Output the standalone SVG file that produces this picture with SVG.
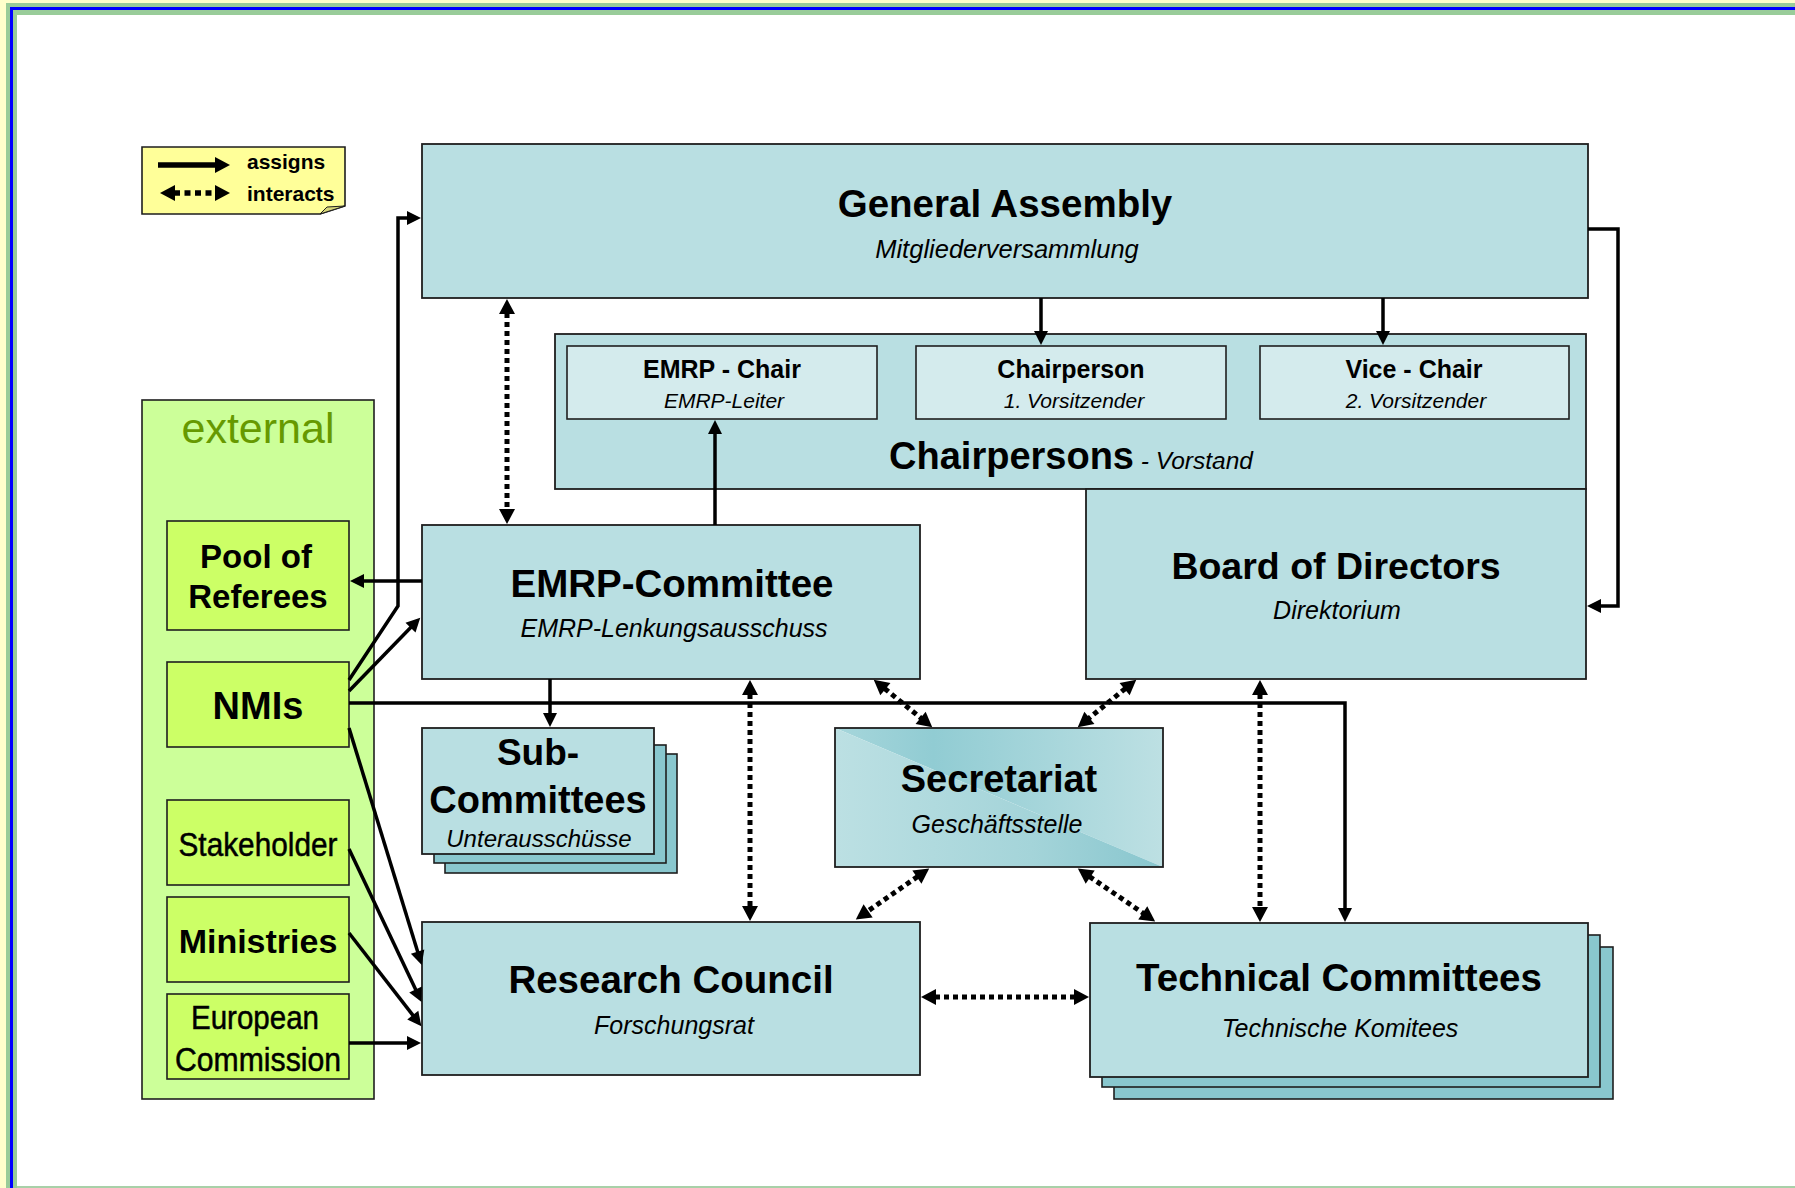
<svg xmlns="http://www.w3.org/2000/svg" width="1795" height="1188" viewBox="0 0 1795 1188">
<style>
.box{fill:#B9DFE2;stroke:#1e1e1e;stroke-width:1.8}
.sub{fill:#D4EBED;stroke:#1e1e1e;stroke-width:1.6}
.shadow{fill:#89C7CE;stroke:#1e1e1e;stroke-width:1.6}
.grn{fill:#CCFF66;stroke:#1e1e1e;stroke-width:1.6}
.ttl{font-family:"Liberation Sans",Arial,sans-serif;font-weight:bold;text-anchor:middle;fill:#000}
.it{font-family:"Liberation Sans",Arial,sans-serif;font-style:italic;text-anchor:middle;fill:#000}
.nar{font-family:"Liberation Sans Narrow","Liberation Sans",Arial,sans-serif;text-anchor:middle;fill:#000;stroke:#000;stroke-width:0.5}
.solid{fill:none;stroke:#000;stroke-width:3.5;marker-end:url(#ah)}
.dot{fill:none;stroke:#000;stroke-width:5;stroke-dasharray:5 4;marker-start:url(#dh);marker-end:url(#dh)}
</style>
<defs>
<marker id="ah" markerUnits="userSpaceOnUse" markerWidth="16" markerHeight="16" refX="1" refY="7" orient="auto-start-reverse" overflow="visible"><path d="M0,0 L14,7 L0,14 z" fill="#000"/></marker>
<marker id="dh" markerUnits="userSpaceOnUse" markerWidth="17" markerHeight="17" refX="1" refY="8" orient="auto-start-reverse" overflow="visible"><path d="M0,0 L15,8 L0,16 z" fill="#000"/></marker>
<linearGradient id="secU" x1="835" y1="0" x2="1163" y2="0" gradientUnits="userSpaceOnUse"><stop offset="0" stop-color="#A6D6DB"/><stop offset="0.3" stop-color="#91CCD3"/><stop offset="1" stop-color="#BDE0E3"/></linearGradient>
<linearGradient id="secL" x1="835" y1="0" x2="1163" y2="0" gradientUnits="userSpaceOnUse"><stop offset="0" stop-color="#BCE0E3"/><stop offset="0.6" stop-color="#A4D4D9"/><stop offset="1" stop-color="#88C6CE"/></linearGradient>
</defs>
<rect x="0" y="0" width="1795" height="1188" fill="#FFFFFF"/>
<g id="frame">
<rect x="0" y="0" width="6" height="1188" fill="#FFFFCC"/>
<rect x="0" y="0" width="1795" height="3" fill="#FFFFCC"/>
<rect x="6" y="3" width="1789" height="4" fill="#99CC99"/>
<rect x="6" y="3" width="4" height="1185" fill="#99CC99"/>
<rect x="10" y="7" width="1785" height="3" fill="#0000FF"/>
<rect x="10" y="7" width="3" height="1181" fill="#0000FF"/>
<rect x="13" y="10" width="1782" height="5" fill="#99CC99"/>
<rect x="13" y="10" width="4" height="1178" fill="#99CC99"/>
<rect x="17" y="1186" width="1778" height="2" fill="#A8D0A8"/>
</g>
<g id="node-legend">
<polygon points="142,147 345,147 345,206 320,214 142,214" fill="#FFFF99" stroke="#1e1e1e" stroke-width="1.6"/>
<polygon points="320,214 345,206 327,207" fill="#D6D67A" stroke="#1e1e1e" stroke-width="1"/>
<line x1="158" y1="165" x2="216" y2="165" stroke="#000" stroke-width="5.5" marker-end="url(#dh)"/>
<line x1="174" y1="193" x2="216" y2="193" stroke="#000" stroke-width="5.5" stroke-dasharray="6 4.5" marker-start="url(#dh)" marker-end="url(#dh)"/>
<text x="247" y="169" font-family="Liberation Sans,Arial,sans-serif" font-weight="bold" font-size="21">assigns</text>
<text x="247" y="201" font-family="Liberation Sans,Arial,sans-serif" font-weight="bold" font-size="21">interacts</text>
</g>
<g id="node-external">
<rect x="142" y="400" width="232" height="699" fill="#CCFF99" stroke="#1e1e1e" stroke-width="1.6"/>
<text x="258" y="443" font-family="Liberation Sans,Arial,sans-serif" font-size="43" text-anchor="middle" fill="#669900">external</text>
</g>
<g id="node-pool">
<rect class="grn" x="167" y="521" width="182" height="109"/>
<text class="ttl" x="256" y="568" font-size="33">Pool of</text>
<text class="ttl" x="258" y="608" font-size="33">Referees</text>
</g>
<g id="node-nmis">
<rect class="grn" x="167" y="662" width="182" height="85"/>
<text class="ttl" x="258" y="719" font-size="38">NMIs</text>
</g>
<g id="node-stakeholder">
<rect class="grn" x="167" y="800" width="182" height="85"/>
<text class="nar" x="258" y="856" font-size="33" textLength="159" lengthAdjust="spacingAndGlyphs">Stakeholder</text>
</g>
<g id="node-ministries">
<rect class="grn" x="167" y="897" width="182" height="85"/>
<text class="ttl" x="258" y="953" font-size="34">Ministries</text>
</g>
<g id="node-ec">
<rect class="grn" x="167" y="994" width="182" height="85"/>
<text class="nar" x="255" y="1029" font-size="33" textLength="128" lengthAdjust="spacingAndGlyphs">European</text>
<text class="nar" x="258" y="1071" font-size="33" textLength="166" lengthAdjust="spacingAndGlyphs">Commission</text>
</g>
<g id="node-ga">
<rect class="box" x="422" y="144" width="1166" height="154"/>
<text class="ttl" x="1005" y="217" font-size="38.5">General Assembly</text>
<text class="it" x="1007" y="258" font-size="25.5">Mitgliederversammlung</text>
</g>
<g id="node-chairpersons">
<rect class="box" x="555" y="334" width="1031" height="155"/>
<text x="1071" y="469" text-anchor="middle" font-family="Liberation Sans,Arial,sans-serif"><tspan font-weight="bold" font-size="38">Chairpersons</tspan><tspan font-style="italic" font-size="24.5"> - Vorstand</tspan></text>
</g>
<g id="node-emrp-chair">
<rect class="sub" x="567" y="346" width="310" height="73"/>
<text class="ttl" x="722" y="378" font-size="25">EMRP - Chair</text>
<text class="it" x="724" y="408" font-size="21">EMRP-Leiter</text>
</g>
<g id="node-chairperson">
<rect class="sub" x="916" y="346" width="310" height="73"/>
<text class="ttl" x="1071" y="378" font-size="25">Chairperson</text>
<text class="it" x="1074" y="408" font-size="21">1. Vorsitzender</text>
</g>
<g id="node-vice-chair">
<rect class="sub" x="1260" y="346" width="309" height="73"/>
<text class="ttl" x="1414" y="378" font-size="25">Vice - Chair</text>
<text class="it" x="1416" y="408" font-size="21">2. Vorsitzender</text>
</g>
<g id="node-bod">
<rect class="box" x="1086" y="489" width="500" height="190"/>
<text class="ttl" x="1336" y="579" font-size="37.5">Board of Directors</text>
<text class="it" x="1337" y="619" font-size="25">Direktorium</text>
</g>
<g id="node-emrp-committee">
<rect class="box" x="422" y="525" width="498" height="154"/>
<text class="ttl" x="672" y="597" font-size="38.5">EMRP-Committee</text>
<text class="it" x="674" y="637" font-size="25">EMRP-Lenkungsausschuss</text>
</g>
<g id="node-subcommittees">
<rect class="shadow" x="445" y="754" width="232" height="119"/>
<rect class="shadow" x="434" y="745" width="232" height="118"/>
<rect class="box" x="422" y="728" width="232" height="126"/>
<text class="ttl" x="538" y="765" font-size="37">Sub-</text>
<text class="ttl" x="538" y="813" font-size="38">Committees</text>
<text class="it" x="539" y="847" font-size="24">Unterausschüsse</text>
</g>
<g id="node-secretariat">
<polygon points="835,728 1163,728 1163,867" fill="url(#secU)"/>
<polygon points="835,728 835,867 1163,867" fill="url(#secL)"/>
<rect x="835" y="728" width="328" height="139" fill="none" stroke="#1e1e1e" stroke-width="1.8"/>
<text class="ttl" x="999" y="792" font-size="38">Secretariat</text>
<text class="it" x="997" y="833" font-size="25">Geschäftsstelle</text>
</g>
<g id="node-rc">
<rect class="box" x="422" y="922" width="498" height="153"/>
<text class="ttl" x="671" y="993" font-size="38.5">Research Council</text>
<text class="it" x="674" y="1034" font-size="25">Forschungsrat</text>
</g>
<g id="node-tc">
<rect class="shadow" x="1114" y="947" width="499" height="152"/>
<rect class="shadow" x="1102" y="935" width="498" height="152"/>
<rect class="box" x="1090" y="923" width="498" height="154"/>
<text class="ttl" x="1339" y="991" font-size="38.5">Technical Committees</text>
<text class="it" x="1340" y="1037" font-size="25">Technische Komitees</text>
</g>
<g id="connectors">
<path class="solid" d="M349,680 L398,606 L398,218 L408,218"/>
<path class="solid" d="M422,581 H363"/>
<path class="solid" d="M349,691 L411.2,627"/>
<path class="solid" d="M349,703 H1345 V909"/>
<path class="solid" d="M550,679 V714"/>
<path class="solid" d="M715,525 V433"/>
<path class="solid" d="M1041,298 V332"/>
<path class="solid" d="M1383,298 V332"/>
<path class="solid" d="M1588,229 H1618 V606 H1600"/>
<path class="solid" d="M349,728 L417.9,952.6"/>
<path class="solid" d="M349,849 L416,990.3"/>
<path class="solid" d="M349,933 L413.4,1015.9"/>
<path class="solid" d="M349,1043 H408"/>
<path class="dot" d="M507,313 V510"/>
<path class="dot" d="M750,694 V907"/>
<path class="dot" d="M1260,694 V908"/>
<path class="dot" d="M935,997 H1075"/>
<path class="dot" d="M884.6,688.5 L921.4,718.5"/>
<path class="dot" d="M1125.4,688.5 L1088.6,718.5"/>
<path class="dot" d="M917.7,876.5 L867.3,911.5"/>
<path class="dot" d="M1089.4,876.5 L1143.6,913.5"/>
</g>
</svg>
